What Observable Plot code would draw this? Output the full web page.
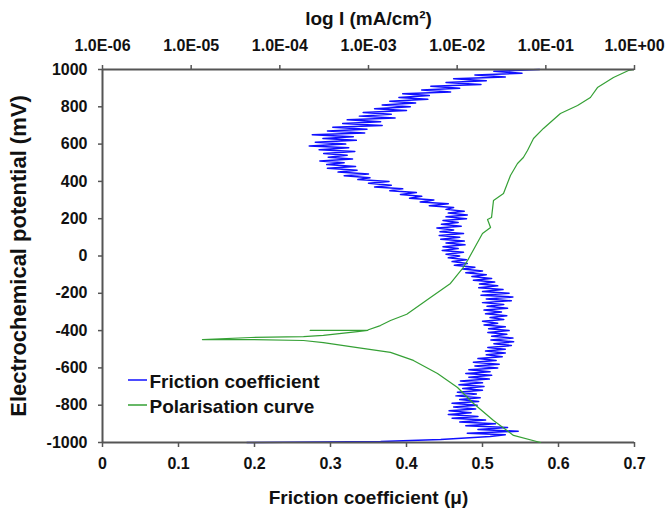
<!DOCTYPE html>
<html>
<head>
<meta charset="utf-8">
<script src="https://cdn.jsdelivr.net/npm/d3@7"></script>
<script src="https://cdn.jsdelivr.net/npm/@observablehq/plot@0.6"></script>
<style>
  body { margin: 0; background: #fff; }
  #chart { position: relative; width: 672px; height: 513px; background: #fff; }
  #chart svg { position: absolute; left: 0; top: 0; }
</style>
</head>
<body>
<div id="chart"></div>
<script>
// ---- Data ----
const frictionTicks = [0, 0.1, 0.2, 0.3, 0.4, 0.5, 0.6, 0.7];
const frictionLabels = ["0", "0.1", "0.2", "0.3", "0.4", "0.5", "0.6", "0.7"];
const potentialTicks = [1000, 800, 600, 400, 200, 0, -200, -400, -600, -800, -1000];
const currentTicks = [1e-6, 1e-5, 1e-4, 1e-3, 1e-2, 1e-1, 1];
const currentLabels = ["1.0E-06", "1.0E-05", "1.0E-04", "1.0E-03", "1.0E-02", "1.0E-01", "1.0E+00"];
const legendLabels = ["Friction coefficient", "Polarisation curve"];

// Friction coefficient trace (potential mV, friction μ)
const blueMv = [1000,990,980,970,960,950,940,930,920,910,900,890,880,870,860,850,840,830,820,810,
  800,790,780,770,760,750,740,730,720,710,700,690,680,670,660,650,640,630,620,610,
  600,590,580,570,560,550,540,530,520,510,500,490,480,470,460,450,440,430,420,410,
  400,390,380,370,360,350,340,330,320,310,300,290,280,270,260,250,240,230,220,210,
  200,190,180,170,160,150,140,130,120,110,100,90,80,70,60,50,40,30,20,10,
  0,-10,-20,-30,-40,-50,-60,-70,-80,-90,-100,-110,-120,-130,-140,-150,-160,-170,-180,-190,
  -200,-210,-220,-230,-240,-250,-260,-270,-280,-290,-300,-310,-320,-330,-340,-350,-360,-370,-380,-390,
  -400,-410,-420,-430,-440,-450,-460,-470,-480,-490,-500,-510,-520,-530,-540,-550,-560,-570,-580,-590,
  -600,-610,-620,-630,-640,-650,-660,-670,-680,-690,-700,-710,-720,-730,-740,-750,-760,-770,-780,-790,
  -800,-810,-820,-830,-840,-850,-860,-870,-880,-890,-900,-910,-920,-930,-940,-950,
  -958,-968,-984,-995,-1000];
const blueMu = [0.575,0.515,0.552,0.490,0.530,0.462,0.505,0.452,0.498,0.432,0.470,0.420,0.458,0.395,0.430,0.390,0.428,0.378,0.412,0.368,
  0.405,0.358,0.400,0.343,0.380,0.338,0.385,0.322,0.366,0.316,0.368,0.303,0.348,0.296,0.345,0.276,0.330,0.290,0.334,0.280,
  0.320,0.272,0.324,0.285,0.332,0.291,0.322,0.297,0.329,0.286,0.318,0.295,0.333,0.296,0.335,0.310,0.350,0.318,0.352,0.336,
  0.377,0.350,0.380,0.358,0.395,0.378,0.413,0.392,0.420,0.404,0.436,0.418,0.455,0.430,0.462,0.452,0.476,0.455,0.480,0.452,
  0.479,0.448,0.468,0.446,0.472,0.440,0.462,0.444,0.475,0.443,0.470,0.445,0.476,0.452,0.477,0.448,0.468,0.447,0.475,0.452,
  0.470,0.455,0.479,0.460,0.480,0.463,0.490,0.474,0.500,0.478,0.505,0.486,0.512,0.488,0.516,0.496,0.520,0.495,0.527,0.500,
  0.535,0.498,0.540,0.505,0.538,0.500,0.528,0.506,0.533,0.502,0.525,0.504,0.532,0.510,0.528,0.500,0.520,0.502,0.530,0.508,
  0.535,0.507,0.532,0.512,0.540,0.511,0.541,0.515,0.538,0.507,0.530,0.504,0.530,0.505,0.526,0.494,0.518,0.488,0.522,0.490,
  0.520,0.482,0.510,0.478,0.512,0.482,0.509,0.471,0.500,0.469,0.502,0.474,0.500,0.467,0.492,0.465,0.497,0.470,0.495,0.460,
  0.493,0.462,0.491,0.456,0.485,0.455,0.494,0.460,0.504,0.470,0.517,0.478,0.533,0.494,0.547,0.480,
  0.530,0.510,0.445,0.366,0.190];

// Polarisation curve (potential mV, current mA/cm²)
const polMv = [-1000,-962,-882,-791,-705,-630,-560,-517,-491,-464,-453,-448,-448,
  -437,-432,-426,-405,-399,-399,-397,-373,-346,-312,-223,-147,-67,-24,121,153,196,206,298,335,432,496,528,566,630,684,764,807,850,903,957,995,1000];
const polI = [0.087,0.0432,0.0257,0.0153,0.0101,0.0060,0.00321,0.00177,0.00075,0.00031,0.000185,0.000047,0.0000134,
  0.000047,0.000185,0.00031,0.00075,0.00098,0.00022,0.00098,0.00136,0.00177,0.0027,0.0050,0.0084,0.0115,0.0131,0.0193,0.0238,0.022,0.0244,0.0257,0.0333,0.0399,0.0479,0.0558,0.0621,0.0726,0.094,0.146,0.228,0.318,0.382,0.579,0.855,1.0];

// ---- Styles ----
const BLUE = "#1010ff";
const GREEN = "#35a035";
const AXIS = "#555";
const FONT = "'Liberation Sans', Arial, sans-serif";
const W = 672, H = 513;
const M = {top: 69, right: 38, bottom: 71, left: 102};

const blueIdx = d3.range(blueMv.length);
const polIdx = d3.range(polMv.length);

const common = {
  width: W, height: H,
  marginTop: M.top, marginRight: M.right, marginBottom: M.bottom, marginLeft: M.left,
  style: {fontFamily: FONT, fontSize: "16px", fontWeight: "bold", color: "#111", background: "transparent", overflow: "visible"}
};

const p1 = Plot.plot({
  ...common,
  x: {type: "linear", domain: [0, 0.7], label: null},
  y: {domain: [-1000, 1000], label: null},
  marks: [
    Plot.line(blueIdx, {x: i => blueMu[i], y: i => blueMv[i], stroke: BLUE, strokeWidth: 1.5}),
    Plot.ruleX([0], {stroke: AXIS, strokeWidth: 2}),
    Plot.ruleY([-1000], {stroke: AXIS, strokeWidth: 2}),
    Plot.axisX({ticks: frictionTicks, tickFormat: d => frictionLabels[frictionTicks.indexOf(d)] ?? String(d), tickSize: 5, tickPadding: 10, stroke: AXIS, strokeWidth: 1.5, label: null}),
    Plot.axisY({ticks: potentialTicks, tickFormat: d => String(d), tickSize: 4, tickPadding: 11, stroke: AXIS, strokeWidth: 1.5, label: null}),
    Plot.text(["Friction coefficient (μ)"], {frameAnchor: "bottom", dy: 55, lineAnchor: "middle", fontSize: 19, fontWeight: "bold", fill: "#111"}),
    Plot.text(["Electrochemical potential (mV)"], {frameAnchor: "left", dx: -84, rotate: -90, textAnchor: "middle", lineAnchor: "middle", fontSize: 22, fontWeight: "bold", fill: "#111"})
  ]
});

const p2 = Plot.plot({
  ...common,
  x: {type: "log", domain: [1e-6, 1], label: null},
  y: {domain: [-1000, 1000], axis: null},
  marks: [
    Plot.line(polIdx, {x: i => polI[i], y: i => polMv[i], stroke: GREEN, strokeWidth: 1.2}),
    Plot.ruleY([1000], {stroke: AXIS, strokeWidth: 2}),
    Plot.axisX({anchor: "top", ticks: currentTicks, tickFormat: d => currentLabels[currentTicks.findIndex(t => Math.abs(Math.log10(t) - Math.log10(d)) < 1e-6)], tickSize: 5, tickPadding: 14, stroke: AXIS, strokeWidth: 1.5, label: null}),
    Plot.text(["log I (mA/cm²)"], {frameAnchor: "top", dy: -51, lineAnchor: "middle", fontSize: 19, fontWeight: "bold", fill: "#111"}),
    Plot.text([legendLabels[0]], {frameAnchor: "bottom-left", dx: 47, dy: -55, textAnchor: "start", lineAnchor: "bottom", fontSize: 19, fontWeight: "bold", fill: "#111"}),
    Plot.text([legendLabels[1]], {frameAnchor: "bottom-left", dx: 47, dy: -30, textAnchor: "start", lineAnchor: "bottom", fontSize: 19, fontWeight: "bold", fill: "#111"})
  ]
});

const chart = document.getElementById("chart");
chart.appendChild(p1);
chart.appendChild(p2);

// Legend line swatches
const lg = d3.select(p2).append("g");
const legendColors = [BLUE, GREEN];
legendColors.forEach((c, k) => {
  const yb = 387 + k * 25;
  lg.append("line").attr("x1", 128).attr("x2", 147).attr("y1", yb - 7).attr("y2", yb - 7)
    .attr("stroke", c).attr("stroke-width", 1.5);
});
</script>
</body>
</html>
